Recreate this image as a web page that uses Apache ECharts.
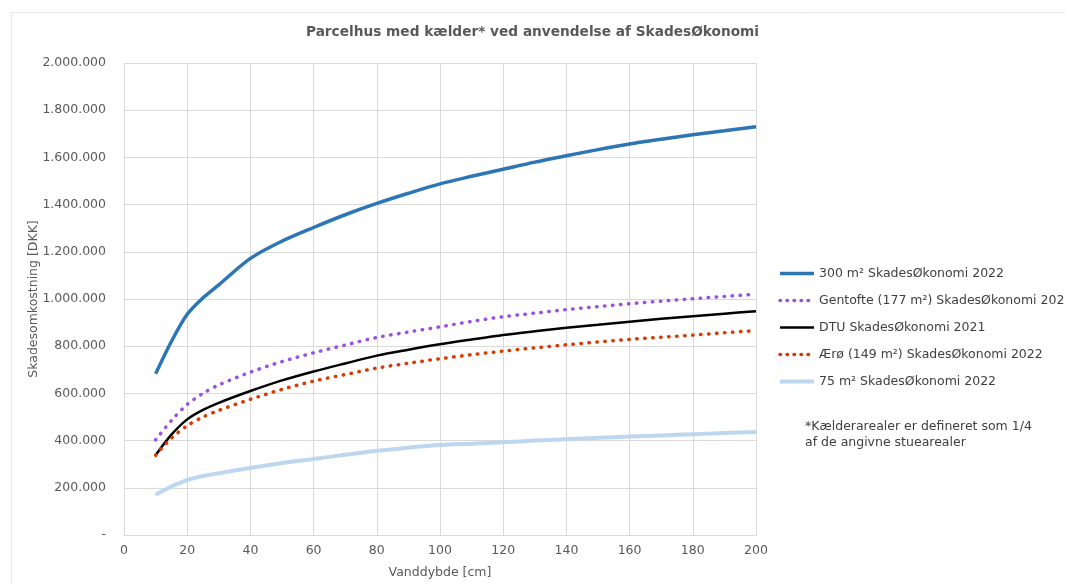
<!DOCTYPE html>
<html>
<head>
<meta charset="utf-8">
<script src="https://cdn.jsdelivr.net/npm/echarts@6/dist/echarts.min.js"></script>
<style>
html,body{margin:0;padding:0;background:#fff;}
#chart{width:1065px;height:584px;}
</style>
</head>
<body>
<div id="chart"></div>
<script>
var depths = [10,15,20,25,30,40,50,60,70,80,90,100,110,120,130,140,150,160,170,180,190,200];
var s300 = [683000,820000,935000,1005000,1060000,1172000,1245000,1303000,1357000,1405000,1448000,1488000,1520000,1550000,1580000,1607000,1633000,1657000,1677000,1696000,1713000,1730000];
var sGentofte = [403000,485000,553000,600000,636000,690000,735000,772000,805000,837000,860000,882000,905000,925000,940000,955000,968000,980000,991000,1001000,1011000,1020000];
var sDTU = [338000,425000,490000,530000,560000,610000,655000,693000,727000,760000,785000,808000,828000,847000,863000,878000,891000,904000,916000,927000,938000,948000];
var sAeroe = [338000,410000,463000,500000,528000,575000,617000,652000,680000,707000,728000,747000,764000,779000,793000,806000,818000,829000,838000,847000,857000,866000];
var s75 = [171000,205000,233000,250000,262000,284000,305000,322000,340000,357000,370000,381000,387000,393000,400000,406000,412000,417000,422000,427000,432000,436000];
var seriesNames = ['300 m² SkadesØkonomi 2022','Gentofte (177 m²) SkadesØkonomi 2022','DTU SkadesØkonomi 2021','Ærø (149 m²) SkadesØkonomi 2022','75 m² SkadesØkonomi 2022'];
var titleText = 'Parcelhus med kælder* ved anvendelse af SkadesØkonomi';
var noteLines = ['*Kælderarealer er defineret som 1/4','af de angivne stuearealer'];
var xName = 'Vanddybde [cm]';
var yName = 'Skadesomkostning [DKK]';

function pairs(vals){ return depths.map(function(d,i){ return [d, vals[i]]; }); }
function fmt(v){ if (v === 0) return '-'; return String(v).replace(/\B(?=(\d{3})+(?!\d))/g, '.'); }

var font = 'DejaVu Sans';
var chart = echarts.init(document.getElementById('chart'));
var styles = [
  { color: '#2E75B6', width: 3.5, dotted: false },
  { color: '#9B51E0', width: 3.5, dotted: true },
  { color: '#000000', width: 2.5, dotted: false },
  { color: '#D83B01', width: 3.5, dotted: true },
  { color: '#BDD7EE', width: 4, dotted: false }
];
function lineStyleOf(st){
  return { color: st.color, width: st.width, type: st.dotted ? [0.5, 7.5] : 'solid', cap: st.dotted ? 'round' : 'butt' };
}
function mk(name, vals, st){
  return {
    name: name, type: 'line', data: pairs(vals), smooth: 0.3, symbol: 'none', showSymbol: false,
    lineStyle: lineStyleOf(st),
    itemStyle: { color: st.color },
    emphasis: { disabled: true }
  };
}
chart.setOption({
  animation: false,
  backgroundColor: '#fff',
  title: { text: titleText, left: 'center', top: 20, textStyle: { fontFamily: font, fontSize: 13.7, fontWeight: 'bold', color: '#595959' } },
  grid: { left: 124, right: 309, top: 63, bottom: 48, containLabel: false },
  legend: {
    orient: 'vertical', left: 773, top: 262, itemWidth: 34, itemHeight: 14, itemGap: 14,
    itemStyle: { opacity: 0 },
    textStyle: { fontFamily: font, fontSize: 12.5, color: '#404040' },
    data: seriesNames.map(function(n, i){
      var ls = lineStyleOf(styles[i]);
      ls.type = styles[i].dotted ? [0.5, 6.5] : 'solid';
      return { name: n, lineStyle: ls };
    })
  },
  xAxis: {
    type: 'value', min: 0, max: 200, interval: 20,
    name: xName, nameLocation: 'middle', nameGap: 31,
    nameTextStyle: { fontFamily: font, fontSize: 12.5, color: '#595959' },
    axisLine: { show: true, lineStyle: { color: '#d9d9d9' } },
    axisTick: { show: false },
    axisLabel: { fontFamily: font, fontSize: 12.5, color: '#595959', margin: 9 },
    splitLine: { show: true, lineStyle: { color: '#d9d9d9', width: 1 } }
  },
  yAxis: {
    type: 'value', min: 0, max: 2000000, interval: 200000,
    name: yName, nameLocation: 'middle', nameGap: 84, nameRotate: 90, nameMoveOverlap: false,
    nameTextStyle: { fontFamily: font, fontSize: 12.5, color: '#595959' },
    axisLine: { show: false }, axisTick: { show: false },
    axisLabel: { fontFamily: font, fontSize: 12.5, color: '#595959', margin: 18, formatter: fmt },
    splitLine: { show: true, lineStyle: { color: '#d9d9d9', width: 1 } }
  },
  graphic: [
    { type: 'rect', shape: { x: 11.5, y: 12.5, width: 1100, height: 620 }, style: { fill: 'none', stroke: '#e6e6e6', lineWidth: 1 }, silent: true, z: -10 },
    { type: 'text', left: 805, top: 419, style: { text: noteLines.join('\n'), fontFamily: font, fontSize: 12.5, lineHeight: 16, fill: '#404040' } }
  ],
  series: seriesNames.map(function(n, i){
    return mk(n, [s300, sGentofte, sDTU, sAeroe, s75][i], styles[i]);
  })
});
</script>
</body>
</html>
